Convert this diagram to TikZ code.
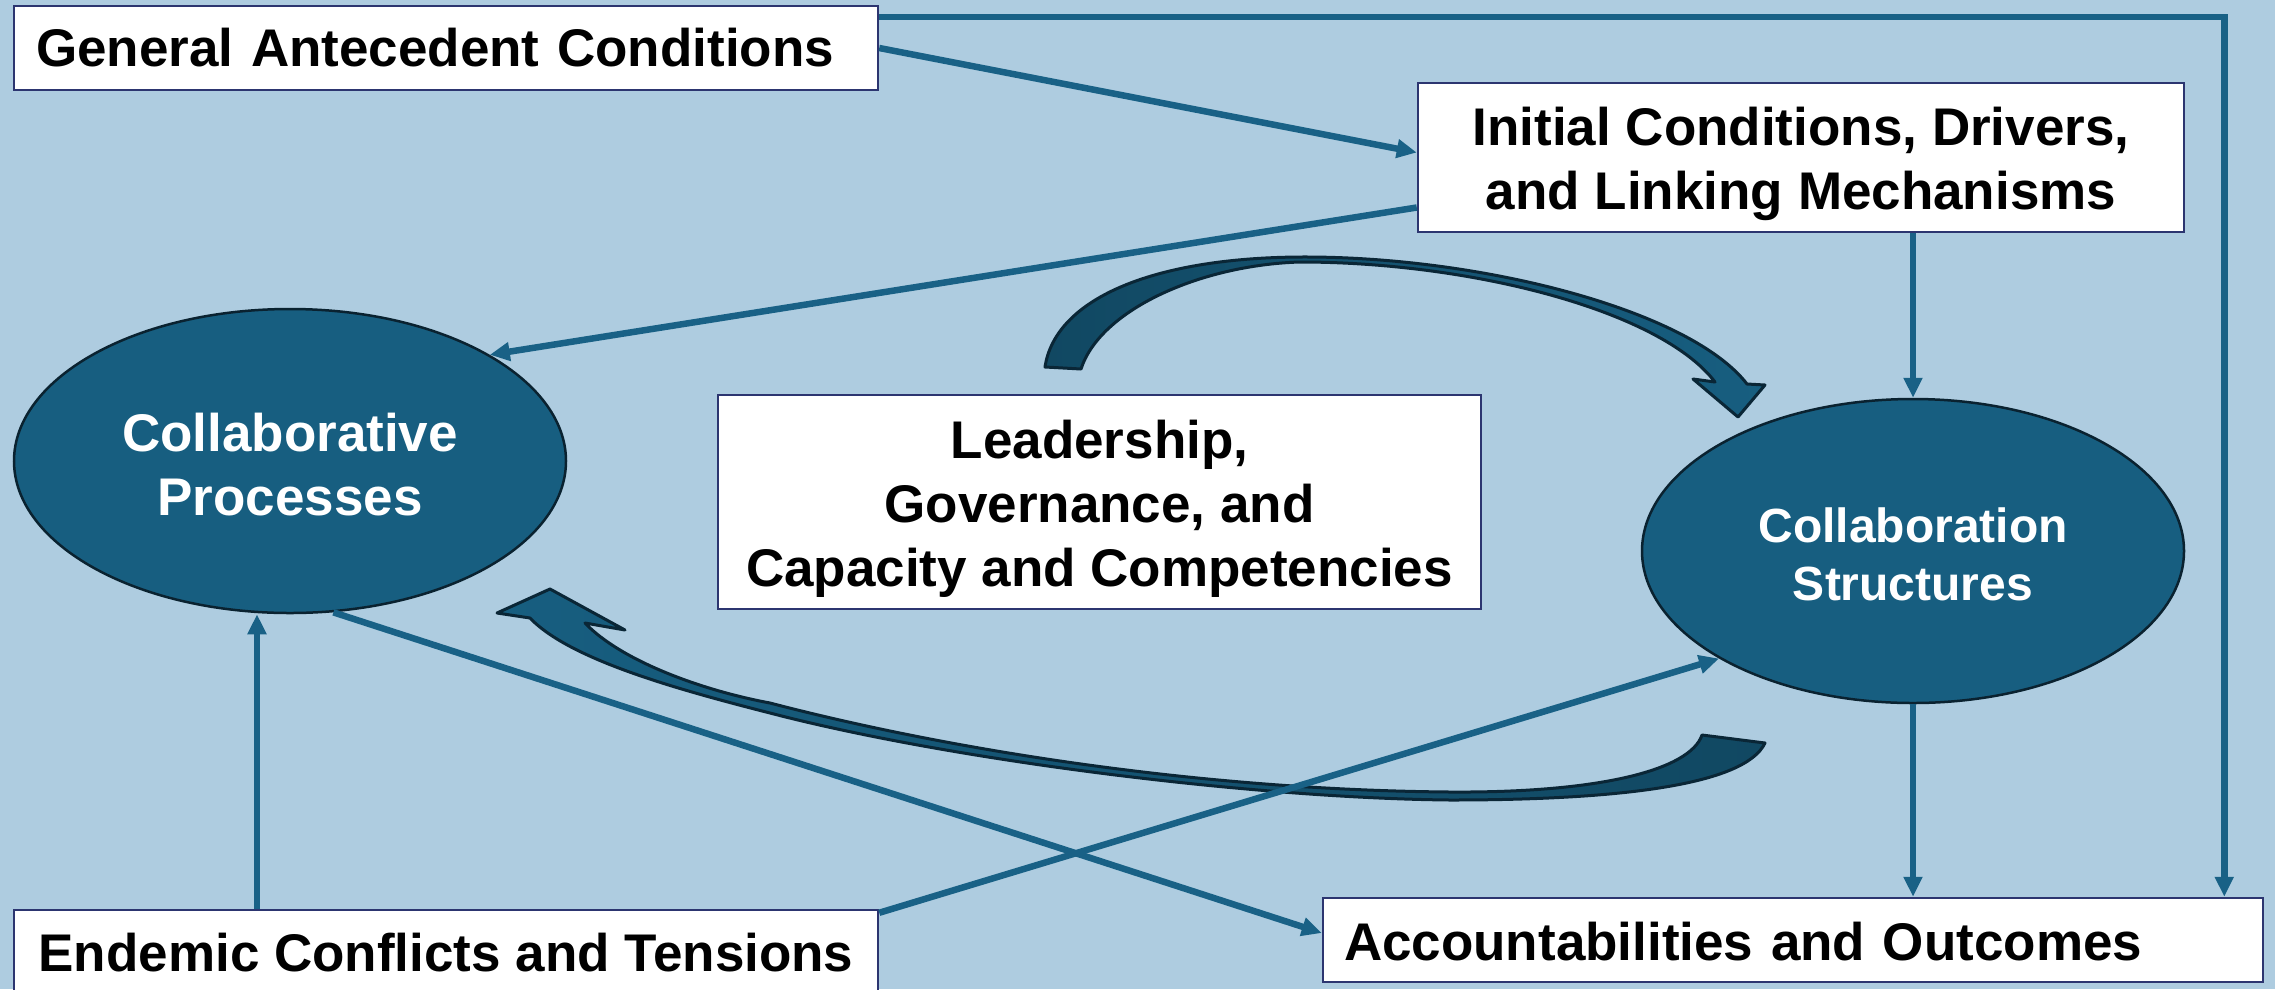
\documentclass[tikz,border=0pt]{standalone}
\usepackage{fontspec}
\setmainfont{Liberation Sans}
\usetikzlibrary{arrows.meta,shapes.geometric,calc}
\definecolor{bg}{HTML}{AECCE0}
\definecolor{lineblue}{HTML}{196186}
\definecolor{ellfill}{HTML}{175E80}
\definecolor{ellline}{HTML}{0A2230}
\definecolor{arrowdark}{HTML}{114862}
\definecolor{arrowlight}{HTML}{175E80}
\definecolor{arrowline}{HTML}{0A2636}
\definecolor{boxborder}{HTML}{2C3570}
\begin{document}
\begin{tikzpicture}[x=1pt,y=-1pt,
  box/.style={rectangle, draw=boxborder, line width=2.5pt, fill=white, text=black,
    font=\fontsize{53}{64}\selectfont\bfseries},
  ell/.style={ellipse, draw=ellline, line width=2.5pt, fill=ellfill, text=white,
    align=center, inner sep=0pt},
  conn/.style={draw=lineblue, line width=6.5pt, -{Triangle[length=20pt,width=18pt]}},
  blockarrow/.style={draw=arrowline, line width=3pt, line join=round}
]
\useasboundingbox (0,0) rectangle (2275,989);
\fill[bg] (0,0) rectangle (2275,989);

% nodes
\node[box, text width=820pt, inner xsep=22pt, minimum height=84pt, align=left] (gac) at (446,48) {General Antecedent Conditions};
\node[box, minimum width=766pt, minimum height=149pt, align=center] (icd) at (1801,157.5) {\rule{0pt}{51pt}Initial Conditions, Drivers,\\and Linking Mechanisms};
\node[box, minimum width=763pt, minimum height=214pt, align=center] (lead) at (1099.5,502) {\rule{0pt}{51pt}Leadership,\\Governance, and\\Capacity and Competencies};
\node[ell, minimum width=552pt, minimum height=304pt, font=\fontsize{53}{64}\selectfont\bfseries] (cp) at (290,461) {\rule{0pt}{45pt}Collaborative\\Processes};
\node[ell, minimum width=542pt, minimum height=304pt, font=\fontsize{48}{58}\selectfont\bfseries] (cs) at (1913,551) {\rule{0pt}{41pt}Collaboration\\Structures};
\node[box, minimum width=864pt, minimum height=86pt, align=center] (ect) at (446,953) {Endemic Conflicts and Tensions};
\node[box, text width=898pt, inner xsep=21pt, minimum height=84pt, align=left] (acc) at (1793,940) {\rule{0pt}{42pt}Accountabilities and Outcomes};

% curved block arrows
\draw[blockarrow, left color=arrowdark, right color=arrowlight]
 (1045,367) .. controls (1055,300) and (1150,258) .. (1300,257)
 .. controls (1480,256) and (1690,310) .. (1747,384)
 -- (1765,385) -- (1738,417) -- (1693,379) -- (1715,382)
 .. controls (1660,310) and (1470,262) .. (1300,262)
 .. controls (1200,265) and (1100,310) .. (1081,369) -- cycle;

\draw[blockarrow, left color=arrowlight, right color=arrowdark]
 (1702,735) -- (1765,743)
 .. controls (1745,785) and (1620,800) .. (1450,800)
 .. controls (1250,798) and (950,760) .. (770,713)
 .. controls (680,690) and (570,660) .. (530,618)
 -- (497,613) -- (550,589) -- (625,630) -- (585,623)
 .. controls (620,660) and (700,690) .. (770,703)
 .. controls (950,750) and (1200,790) .. (1450,792)
 .. controls (1600,793) and (1690,770) .. (1702,735) -- cycle;

% connectors
\draw[conn] ([yshift=31pt]gac.east) -| ([xshift=-40pt]acc.north east);
\draw[conn] (gac.east) -- ([yshift=5pt]icd.west);
\draw[conn] ([yshift=-50pt]icd.west) -- (cp.28);
\draw[conn] (icd.south -| cs.north) -- (cs.north);
\draw[conn] (cs.south) -- (cs.south |- acc.north);
\draw[conn] (cp.-74) -- ([yshift=7pt]acc.west);
\draw[conn] ([yshift=-4pt]ect.north east) -- (cs.209);
\draw[conn] ([xshift=-189pt]ect.north) -- ([xshift=-189pt]ect.north |- cp.south);
\end{tikzpicture}
\end{document}
